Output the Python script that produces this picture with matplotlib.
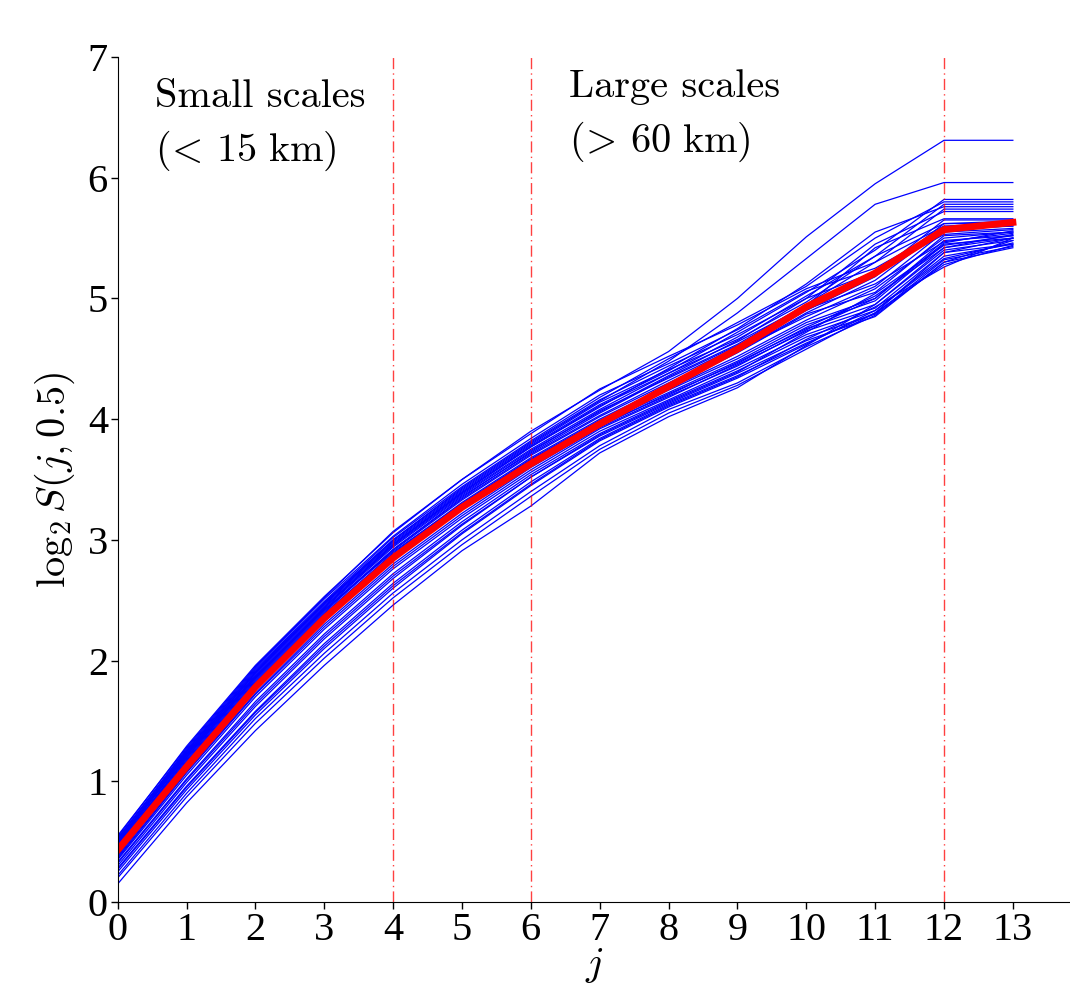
import numpy as np
import matplotlib
matplotlib.use("Agg")
import matplotlib.pyplot as plt

plt.rcParams['font.family'] = ['Liberation Serif', 'DejaVu Serif']
plt.rcParams['mathtext.fontset'] = 'cm'

j = np.arange(14)

# individual curves, log2 S(j, 0.5) for j = 0..13
curves = [
    [0.55, 1.28, 1.95, 2.52, 3.07, 3.50, 3.90, 4.24, 4.56, 5.00, 5.51, 5.95, 6.31, 6.31],
    [0.52, 1.25, 1.92, 2.48, 3.00, 3.42, 3.80, 4.15, 4.48, 4.88, 5.33, 5.78, 5.96, 5.96],
    [0.50, 1.24, 1.90, 2.47, 2.98, 3.40, 3.78, 4.12, 4.40, 4.72, 5.05, 5.40, 5.82, 5.82],
    [0.53, 1.26, 1.93, 2.49, 3.02, 3.44, 3.82, 4.18, 4.50, 4.80, 5.10, 5.50, 5.80, 5.80],
    [0.48, 1.22, 1.88, 2.45, 2.96, 3.38, 3.75, 4.08, 4.38, 4.68, 5.02, 5.35, 5.78, 5.78],
    [0.51, 1.23, 1.89, 2.46, 2.97, 3.39, 3.77, 4.10, 4.42, 4.75, 5.12, 5.55, 5.76, 5.76],
    [0.47, 1.20, 1.86, 2.43, 2.94, 3.36, 3.72, 4.05, 4.35, 4.62, 4.95, 5.30, 5.74, 5.74],
    [0.49, 1.21, 1.87, 2.44, 2.95, 3.37, 3.74, 4.06, 4.36, 4.65, 5.00, 5.45, 5.72, 5.72],
    [0.46, 1.19, 1.85, 2.42, 2.92, 3.34, 3.71, 4.03, 4.32, 4.60, 4.92, 5.20, 5.65, 5.65],
    [0.45, 1.18, 1.84, 2.41, 2.91, 3.33, 3.70, 4.02, 4.30, 4.58, 4.90, 5.18, 5.62, 5.62],
    [0.50, 1.22, 1.87, 2.42, 2.90, 3.30, 3.66, 3.98, 4.28, 4.56, 4.88, 5.15, 5.58, 5.60],
    [0.44, 1.16, 1.82, 2.39, 2.89, 3.31, 3.68, 4.00, 4.28, 4.57, 4.85, 5.10, 5.55, 5.58],
    [0.42, 1.14, 1.80, 2.37, 2.87, 3.29, 3.66, 3.98, 4.26, 4.55, 4.87, 5.05, 5.52, 5.55],
    [0.43, 1.15, 1.81, 2.38, 2.88, 3.30, 3.67, 3.99, 4.25, 4.52, 4.82, 5.08, 5.50, 5.55],
    [0.40, 1.12, 1.78, 2.35, 2.85, 3.27, 3.64, 3.97, 4.24, 4.50, 4.80, 5.00, 5.48, 5.52],
    [0.41, 1.13, 1.79, 2.36, 2.86, 3.28, 3.65, 3.96, 4.22, 4.48, 4.78, 4.98, 5.45, 5.50],
    [0.38, 1.10, 1.76, 2.33, 2.83, 3.25, 3.62, 3.95, 4.20, 4.47, 4.75, 4.95, 5.40, 5.48],
    [0.39, 1.11, 1.77, 2.34, 2.84, 3.26, 3.63, 3.94, 4.21, 4.46, 4.76, 5.02, 5.42, 5.50],
    [0.36, 1.07, 1.72, 2.28, 2.78, 3.20, 3.58, 3.92, 4.18, 4.45, 4.73, 4.92, 5.38, 5.45],
    [0.35, 1.05, 1.70, 2.26, 2.76, 3.18, 3.56, 3.90, 4.16, 4.42, 4.70, 4.90, 5.35, 5.45],
    [0.33, 1.02, 1.66, 2.22, 2.72, 3.15, 3.54, 3.88, 4.15, 4.40, 4.68, 4.87, 5.32, 5.43],
    [0.30, 0.99, 1.62, 2.18, 2.68, 3.12, 3.52, 3.86, 4.13, 4.38, 4.65, 4.85, 5.30, 5.42],
    [0.28, 0.96, 1.58, 2.14, 2.64, 3.08, 3.48, 3.84, 4.12, 4.36, 4.63, 4.88, 5.28, 5.44],
    [0.25, 0.93, 1.55, 2.10, 2.60, 3.05, 3.45, 3.82, 4.10, 4.34, 4.62, 4.90, 5.33, 5.46],
    [0.22, 0.90, 1.52, 2.06, 2.56, 3.00, 3.40, 3.78, 4.08, 4.30, 4.60, 4.86, 5.30, 5.48],
    [0.20, 0.87, 1.48, 2.02, 2.52, 2.96, 3.36, 3.75, 4.05, 4.28, 4.58, 4.88, 5.38, 5.50],
    [0.15, 0.82, 1.42, 1.96, 2.46, 2.91, 3.28, 3.72, 4.02, 4.26, 4.61, 4.95, 5.42, 5.53],
    [0.54, 1.29, 1.96, 2.53, 3.06, 3.50, 3.88, 4.25, 4.52, 4.78, 5.08, 5.30, 5.60, 5.62],
    [0.52, 1.27, 1.94, 2.51, 3.03, 3.46, 3.84, 4.20, 4.46, 4.74, 5.06, 5.25, 5.57, 5.60],
    [0.50, 1.25, 1.91, 2.48, 3.00, 3.43, 3.81, 4.16, 4.44, 4.70, 5.00, 5.22, 5.53, 5.57],
    [0.48, 1.23, 1.90, 2.47, 2.99, 3.41, 3.79, 4.14, 4.41, 4.66, 4.97, 5.35, 5.62, 5.64],
    [0.46, 1.20, 1.86, 2.44, 2.96, 3.39, 3.77, 4.11, 4.38, 4.64, 4.94, 5.42, 5.66, 5.66],
    [0.44, 1.17, 1.83, 2.40, 2.92, 3.35, 3.73, 4.07, 4.34, 4.61, 4.91, 5.12, 5.47, 5.54],
    [0.32, 1.01, 1.64, 2.20, 2.70, 3.13, 3.52, 3.87, 4.14, 4.39, 4.72, 5.04, 5.44, 5.52],
    [0.27, 0.95, 1.57, 2.12, 2.62, 3.06, 3.46, 3.83, 4.11, 4.35, 4.66, 4.93, 5.26, 5.50],
    [0.37, 1.08, 1.73, 2.30, 2.80, 3.22, 3.60, 3.93, 4.19, 4.44, 4.74, 5.00, 5.46, 5.56],
]

# average curve (red)
mean_curve = [0.43, 1.12, 1.78, 2.35, 2.85, 3.27, 3.63, 3.96, 4.27, 4.58, 4.93, 5.21, 5.57, 5.63]

# scale boundaries
bounds = [4, 6, 12]

fig = plt.figure(figsize=(10.70, 9.83), dpi=100)
ax = fig.add_axes([0.110, 0.0824, 0.890, 0.8596])

for c in curves:
    ax.plot(j, c, color='blue', lw=0.9)
ax.plot(j, mean_curve, color='red', lw=5)

for b in bounds:
    ax.axvline(b, color='red', ls=(0, (8, 3, 1, 3)), lw=1, alpha=0.75)

ax.text(0.54, 6.82, 'Small scales\n' + r'$(\!<\,15\ \mathrm{km})$', fontsize=29,
        family='cmr10', va='top', ha='left', linespacing=1.45)
ax.text(6.56, 6.90, 'Large scales\n' + r'$(\!>\,60\ \mathrm{km})$', fontsize=29,
        family='cmr10', va='top', ha='left', linespacing=1.45)

ax.set_xlim(0, 13.83)
ax.set_ylim(0, 7)
ax.set_xticks(range(14))
ax.set_yticks(range(8))
ax.tick_params(labelsize=29, direction='out', length=5, width=1, pad=2)
ax.spines['top'].set_visible(False)
ax.spines['right'].set_visible(False)

ax.set_xlabel(r'$j$', fontsize=29, labelpad=-2)
ax.set_ylabel(r'$\log_2 S(j, 0.5)$', fontsize=29, labelpad=8)

fig.savefig('out.png', dpi=100)
